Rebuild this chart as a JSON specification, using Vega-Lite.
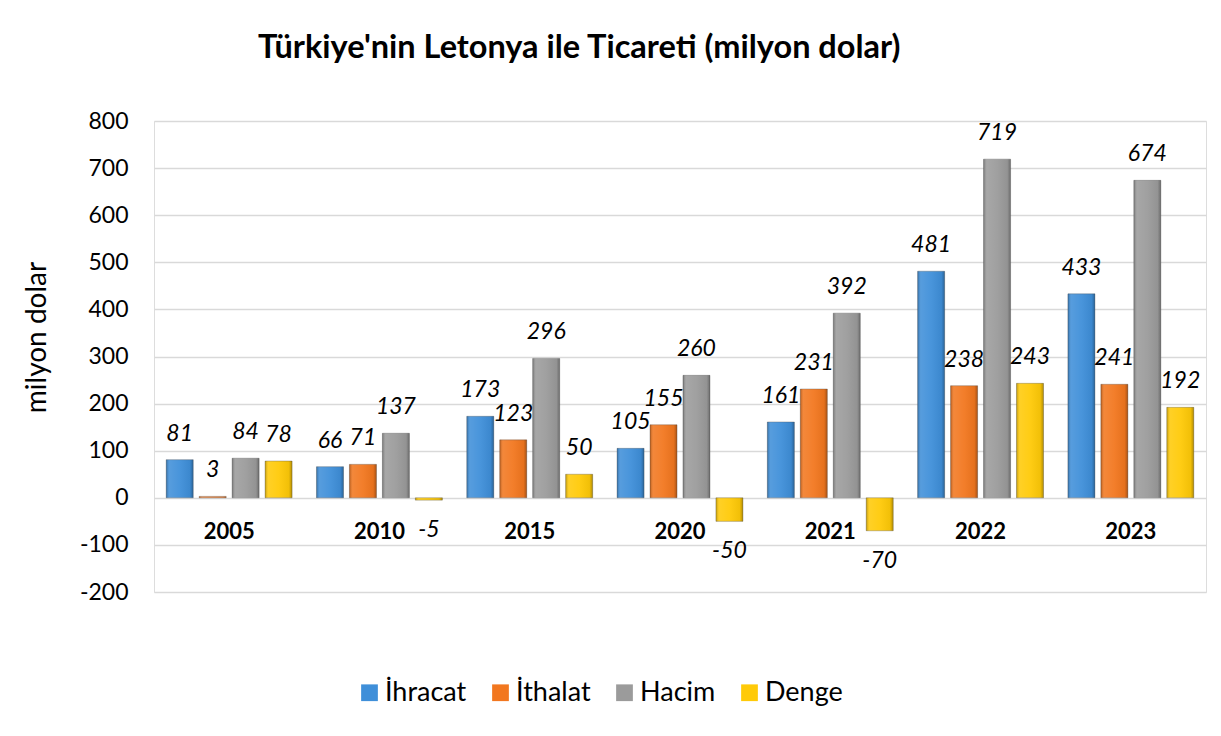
{
  "$schema": "https://vega.github.io/schema/vega-lite/v6.json",
  "autosize": "none",
  "width": 1052,
  "height": 471,
  "padding": {"left": 154, "top": 121, "right": 15, "bottom": 144},
  "background": "white",
  "data": {
    "values": [
      {"year": "2005", "series": "İhracat", "value": 81},
      {"year": "2005", "series": "İthalat", "value": 3},
      {"year": "2005", "series": "Hacim", "value": 84},
      {"year": "2005", "series": "Denge", "value": 78},
      {"year": "2010", "series": "İhracat", "value": 66},
      {"year": "2010", "series": "İthalat", "value": 71},
      {"year": "2010", "series": "Hacim", "value": 137},
      {"year": "2010", "series": "Denge", "value": -5},
      {"year": "2015", "series": "İhracat", "value": 173},
      {"year": "2015", "series": "İthalat", "value": 123},
      {"year": "2015", "series": "Hacim", "value": 296},
      {"year": "2015", "series": "Denge", "value": 50},
      {"year": "2020", "series": "İhracat", "value": 105},
      {"year": "2020", "series": "İthalat", "value": 155},
      {"year": "2020", "series": "Hacim", "value": 260},
      {"year": "2020", "series": "Denge", "value": -50},
      {"year": "2021", "series": "İhracat", "value": 161},
      {"year": "2021", "series": "İthalat", "value": 231},
      {"year": "2021", "series": "Hacim", "value": 392},
      {"year": "2021", "series": "Denge", "value": -70},
      {"year": "2022", "series": "İhracat", "value": 481},
      {"year": "2022", "series": "İthalat", "value": 238},
      {"year": "2022", "series": "Hacim", "value": 719},
      {"year": "2022", "series": "Denge", "value": 243},
      {"year": "2023", "series": "İhracat", "value": 433},
      {"year": "2023", "series": "İthalat", "value": 241},
      {"year": "2023", "series": "Hacim", "value": 674},
      {"year": "2023", "series": "Denge", "value": 192}
    ]
  },
  "title": {
    "text": "Türkiye'nin Letonya ile Ticareti (milyon dolar)",
    "anchor": "start",
    "frame": "group",
    "dx": 104,
    "offset": 20,
    "baseline": "alphabetic",
    "font": "Lato",
    "fontSize": 32.5,
    "fontWeight": "bold",
    "color": "black"
  },
  "encoding": {
    "x": {
      "field": "year",
      "type": "nominal",
      "scale": {"paddingInner": 0, "paddingOuter": 0},
      "axis": {
        "title": null,
        "orient": "bottom",
        "offset": -94,
        "domain": false,
        "ticks": false,
        "labelAngle": 0,
        "labelPadding": 23,
        "labelFont": "Lato",
        "labelFontSize": 22,
        "labelFontWeight": "bold",
        "labelColor": "black",
        "grid": false
      }
    },
    "xOffset": {
      "field": "series",
      "type": "nominal",
      "sort": ["İhracat", "İthalat", "Hacim", "Denge"],
      "scale": {"paddingInner": 0.18, "paddingOuter": 0.37}
    },
    "y": {
      "field": "value",
      "type": "quantitative",
      "scale": {"domain": [-200, 800], "nice": false},
      "axis": {
        "title": "milyon dolar",
        "titleFont": "Lato",
        "titleFontSize": 28,
        "titleFontWeight": "normal",
        "titleColor": "black",
        "titleX": -117,
        "titleY": 216,
        "titleAngle": -90,
        "titleAlign": "center",
        "titleBaseline": "middle",
        "values": [-200, -100, 0, 100, 200, 300, 400, 500, 600, 700, 800],
        "labelExpr": "'' + datum.value",
        "domain": false,
        "ticks": false,
        "labelPadding": 26,
        "labelFont": "Lato",
        "labelFontSize": 23,
        "labelColor": "black",
        "grid": true,
        "gridColor": "#D9D9D9",
        "gridWidth": 1.5
      }
    }
  },
  "layer": [
    {
      "mark": {"type": "bar", "stroke": "#555555", "strokeWidth": 0.6, "strokeOpacity": 0.6},
      "encoding": {
        "color": {
          "field": "series",
          "type": "nominal",
          "sort": ["İhracat", "İthalat", "Hacim", "Denge"],
          "scale": {
            "domain": ["İhracat", "İthalat", "Hacim", "Denge"],
            "range": ["#3F8FD9", "#F2771F", "#9B9B9B", "#FFCA08"]
          },
          "legend": {
            "title": null,
            "orient": "none",
            "legendX": 202,
            "legendY": 558,
            "direction": "horizontal",
            "symbolType": "square",
            "symbolSize": 280,
            "symbolStrokeWidth": 0,
            "labelFont": "Lato",
            "labelFontSize": 27,
            "labelColor": "black",
            "labelOffset": 2,
            "columnPadding": 20
          }
        }
      }
    },
    {
      "mark": {
        "type": "bar",
        "fill": {
          "gradient": "linear",
          "x1": 0, "y1": 0, "x2": 1, "y2": 0,
          "stops": [
            {"offset": 0, "color": "rgba(0,0,0,0.25)"},
            {"offset": 0.12, "color": "rgba(255,255,255,0.12)"},
            {"offset": 0.5, "color": "rgba(255,255,255,0.05)"},
            {"offset": 0.88, "color": "rgba(0,0,0,0.05)"},
            {"offset": 1, "color": "rgba(0,0,0,0.3)"}
          ]
        }
      }
    },
    {
      "transform": [{"filter": "datum.value >= 0"}],
      "mark": {"type": "text", "baseline": "middle", "dy": -26, "font": "Lato", "fontSize": 23, "fontStyle": "italic", "color": "black"},
      "encoding": {"text": {"field": "value", "type": "nominal"}}
    },
    {
      "transform": [{"filter": "datum.value < 0"}],
      "mark": {"type": "text", "baseline": "middle", "dy": 30, "font": "Lato", "fontSize": 23, "fontStyle": "italic", "color": "black"},
      "encoding": {"text": {"field": "value", "type": "nominal"}}
    }
  ]
}
